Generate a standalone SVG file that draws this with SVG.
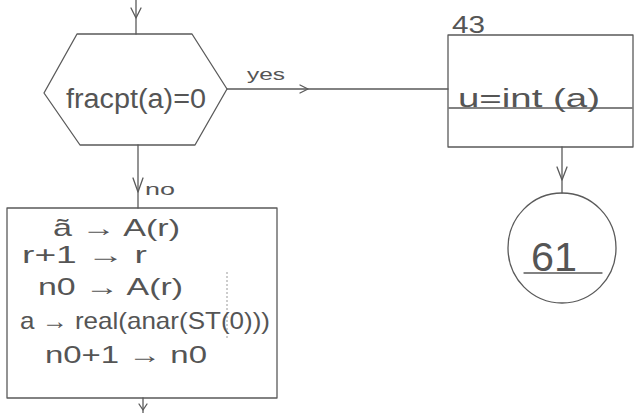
<svg xmlns="http://www.w3.org/2000/svg" width="638" height="413" viewBox="0 0 638 413">
<style>
.s{fill:none;stroke:#5a5a5a;stroke-width:1.3;stroke-linecap:round;stroke-linejoin:round}
.f{fill:none;stroke:#9a9a9a;stroke-width:1;stroke-dasharray:2 2}
.t{font-family:"Liberation Sans","DejaVu Sans",sans-serif;fill:#555;font-weight:normal}
</style>
<rect width="638" height="413" fill="#fff"/>
<g id="connectors">
<line class="s" x1="136" y1="0" x2="136" y2="34"/>
<polyline class="s" points="131,8 136,18 141,8"/>
<line class="s" x1="138" y1="145" x2="138" y2="208"/>
<polyline class="s" points="133,178 138,192 143,178"/>
<line class="s" x1="227" y1="89" x2="448" y2="89"/>
<polyline class="s" points="300,85 308,89 300,93"/>
<line class="s" x1="562" y1="147" x2="562" y2="193"/>
<polyline class="s" points="557,167 562,180 567,167"/>
<line class="s" x1="143" y1="398" x2="143" y2="413"/>
<polyline class="s" points="139,404 143,410 147,404"/>
<text class="t" x="247" y="80" font-size="17" textLength="38" lengthAdjust="spacingAndGlyphs">yes</text>
<text class="t" x="145" y="195" font-size="17" textLength="30" lengthAdjust="spacingAndGlyphs">no</text>
</g>
<g id="decision">
<polygon class="s" points="77,34 192,34 227,89 195,145 80,145 44,93"/>
<text class="t" x="66" y="108" font-size="27" textLength="140" lengthAdjust="spacingAndGlyphs">fracpt(a)=0</text>
</g>
<g id="box43">
<rect class="s" x="448" y="35" width="185" height="112"/>
<text class="t" x="452" y="33" font-size="24" textLength="33" lengthAdjust="spacingAndGlyphs">43</text>
<line class="s" x1="449" y1="108" x2="632" y2="108" stroke-width="1"/>
<text class="t" x="458" y="107" font-size="25" textLength="142" lengthAdjust="spacingAndGlyphs">u=int (a)</text>
</g>
<g id="connector61">
<ellipse class="s" cx="562" cy="248" rx="54" ry="55"/>
<line class="s" x1="524" y1="273" x2="602" y2="273" stroke-width="1"/>
<text class="t" x="531" y="271" font-size="40" textLength="46" lengthAdjust="spacingAndGlyphs">61</text>
</g>
<g id="process">
<rect class="s" x="7" y="208" width="270" height="190"/>
<line class="f" x1="227" y1="272" x2="227" y2="338"/>
<text class="t" x="53" y="236" font-size="24" textLength="127" lengthAdjust="spacingAndGlyphs">ã → A(r)</text>
<text class="t" x="22" y="263" font-size="24" textLength="125" lengthAdjust="spacingAndGlyphs">r+1 → r</text>
<text class="t" x="38" y="295" font-size="24" textLength="145" lengthAdjust="spacingAndGlyphs">n0 → A(r)</text>
<text class="t" x="20" y="329" font-size="24" textLength="250" lengthAdjust="spacingAndGlyphs">a → real(anar(ST(0)))</text>
<text class="t" x="45" y="363" font-size="24" textLength="162" lengthAdjust="spacingAndGlyphs">n0+1 → n0</text>
</g>
</svg>
